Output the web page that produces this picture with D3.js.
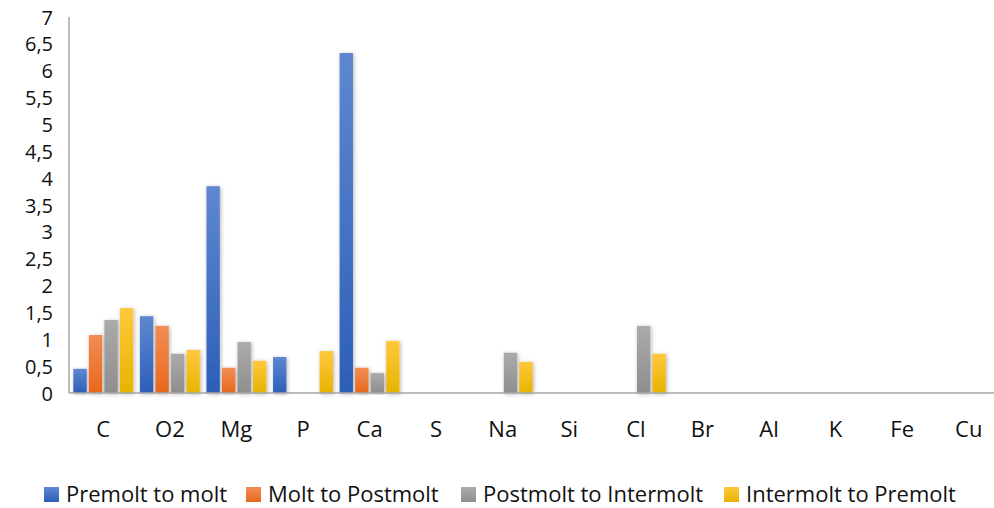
<!DOCTYPE html>
<html>
<head>
<meta charset="utf-8">
<script src="https://cdn.jsdelivr.net/npm/d3@7"></script>
<style>
  body { margin: 0; background: #fff; }
  svg text { font-family: "Open Sans", sans-serif; fill: #111; }
</style>
</head>
<body>
<svg id="chart" width="994" height="508"></svg>
<script>
// chart data
var elements = ['C', 'O2', 'Mg', 'P', 'Ca', 'S', 'Na', 'Si', 'Cl', 'Br', 'Al', 'K', 'Fe', 'Cu'];
var seriesNames = ['Premolt to molt', 'Molt to Postmolt', 'Postmolt to Intermolt', 'Intermolt to Premolt'];
var premoltToMolt       = [0.45, 1.43, 3.85, 0.67, 6.33, 0, 0, 0, 0, 0, 0, 0, 0, 0];
var moltToPostmolt      = [1.08, 1.25, 0.47, 0, 0.47, 0, 0, 0, 0, 0, 0, 0, 0, 0];
var postmoltToIntermolt = [1.36, 0.73, 0.95, 0, 0.37, 0, 0.75, 0, 1.25, 0, 0, 0, 0, 0];
var intermoltToPremolt  = [1.58, 0.80, 0.60, 0.78, 0.97, 0, 0.58, 0, 0.73, 0, 0, 0, 0, 0];
var yTicks = [0, 0.5, 1, 1.5, 2, 2.5, 3, 3.5, 4, 4.5, 5, 5.5, 6, 6.5, 7];

var allSeries = [premoltToMolt, moltToPostmolt, postmoltToIntermolt, intermoltToPremolt];
var colours = [
  {top: '#5f87d0', bottom: '#2c5fb8'},
  {top: '#f28d55', bottom: '#e8681b'},
  {top: '#ababab', bottom: '#8e8e8e'},
  {top: '#ffc83d', bottom: '#e8b300'}
];

var svg = d3.select('#chart');
var plotLeft = 70, plotRight = 1002, plotTop = 17, plotBottom = 393;

var x = d3.scaleBand().domain(elements).range([plotLeft, plotRight]).paddingInner(0.1).paddingOuter(0.05);
var xs = d3.scaleBand().domain(d3.range(4)).range([0, x.bandwidth()]).paddingInner(0.14);
var y = d3.scaleLinear().domain([0, 7]).range([plotBottom, plotTop]);

var defs = svg.append('defs');
colours.forEach(function(c, i) {
  var g = defs.append('linearGradient').attr('id', 'grad' + i)
    .attr('x1', 0).attr('y1', 0).attr('x2', 0).attr('y2', 1);
  g.append('stop').attr('offset', '0%').attr('stop-color', c.top);
  g.append('stop').attr('offset', '100%').attr('stop-color', c.bottom);
});
var f = defs.append('filter').attr('id', 'shadow')
  .attr('x', '-40%').attr('y', '-10%').attr('width', '180%').attr('height', '120%');
f.append('feDropShadow').attr('dx', 1).attr('dy', 1).attr('stdDeviation', 2)
  .attr('flood-color', '#000').attr('flood-opacity', 0.3);

// axes
var yAxis = d3.axisLeft(y).tickValues(yTicks).tickSize(0).tickPadding(0)
  .tickFormat(function(d) { return String(d).replace('.', ','); });
var gy = svg.append('g').attr('transform', 'translate(53,0)').call(yAxis);
gy.select('.domain').remove();
gy.selectAll('text').style('font-size', '20px').style('font-family', '"Open Sans", sans-serif')
  .attr('dy', '0.35em');

svg.append('line').attr('x1', 69).attr('x2', 69).attr('y1', plotTop).attr('y2', plotBottom)
  .attr('stroke', '#a6a6a6').attr('stroke-width', 1.5);

// bars
var groups = svg.append('g').selectAll('g')
  .data(elements).enter().append('g')
  .attr('transform', function(d) { return 'translate(' + x(d) + ',0)'; });

groups.selectAll('rect')
  .data(function(d, i) { return allSeries.map(function(s, k) { return {k: k, v: s[i]}; }); })
  .enter().filter(function(d) { return d.v > 0; })
  .append('rect')
  .attr('x', function(d) { return xs(d.k); })
  .attr('y', function(d) { return y(d.v); })
  .attr('width', xs.bandwidth())
  .attr('height', function(d) { return plotBottom - y(d.v); })
  .attr('fill', function(d) { return 'url(#grad' + d.k + ')'; })
  .attr('filter', 'url(#shadow)');

svg.append('line').attr('x1', 69).attr('x2', 994).attr('y1', plotBottom).attr('y2', plotBottom)
  .attr('stroke', '#a6a6a6').attr('stroke-width', 1.5);

var xAxis = d3.axisBottom(x).tickSize(0).tickPadding(0);
var gx = svg.append('g').attr('transform', 'translate(0,' + 429 + ')').call(xAxis);
gx.select('.domain').remove();
gx.selectAll('text').style('font-size', '22px').style('font-family', '"Open Sans", sans-serif')
  .attr('dy', '0.35em');

// legend
var legendX = [44, 246, 461, 724];
var legend = svg.append('g').selectAll('g')
  .data(seriesNames).enter().append('g')
  .attr('transform', function(d, i) { return 'translate(' + legendX[i] + ',487)'; });
legend.append('rect').attr('width', 15).attr('height', 15)
  .attr('fill', function(d, i) { return 'url(#grad' + i + ')'; });
legend.append('text').attr('x', 22).attr('y', 7.5).attr('dy', '0.35em')
  .style('font-size', '22px').text(function(d) { return d; });
</script>
</body>
</html>
